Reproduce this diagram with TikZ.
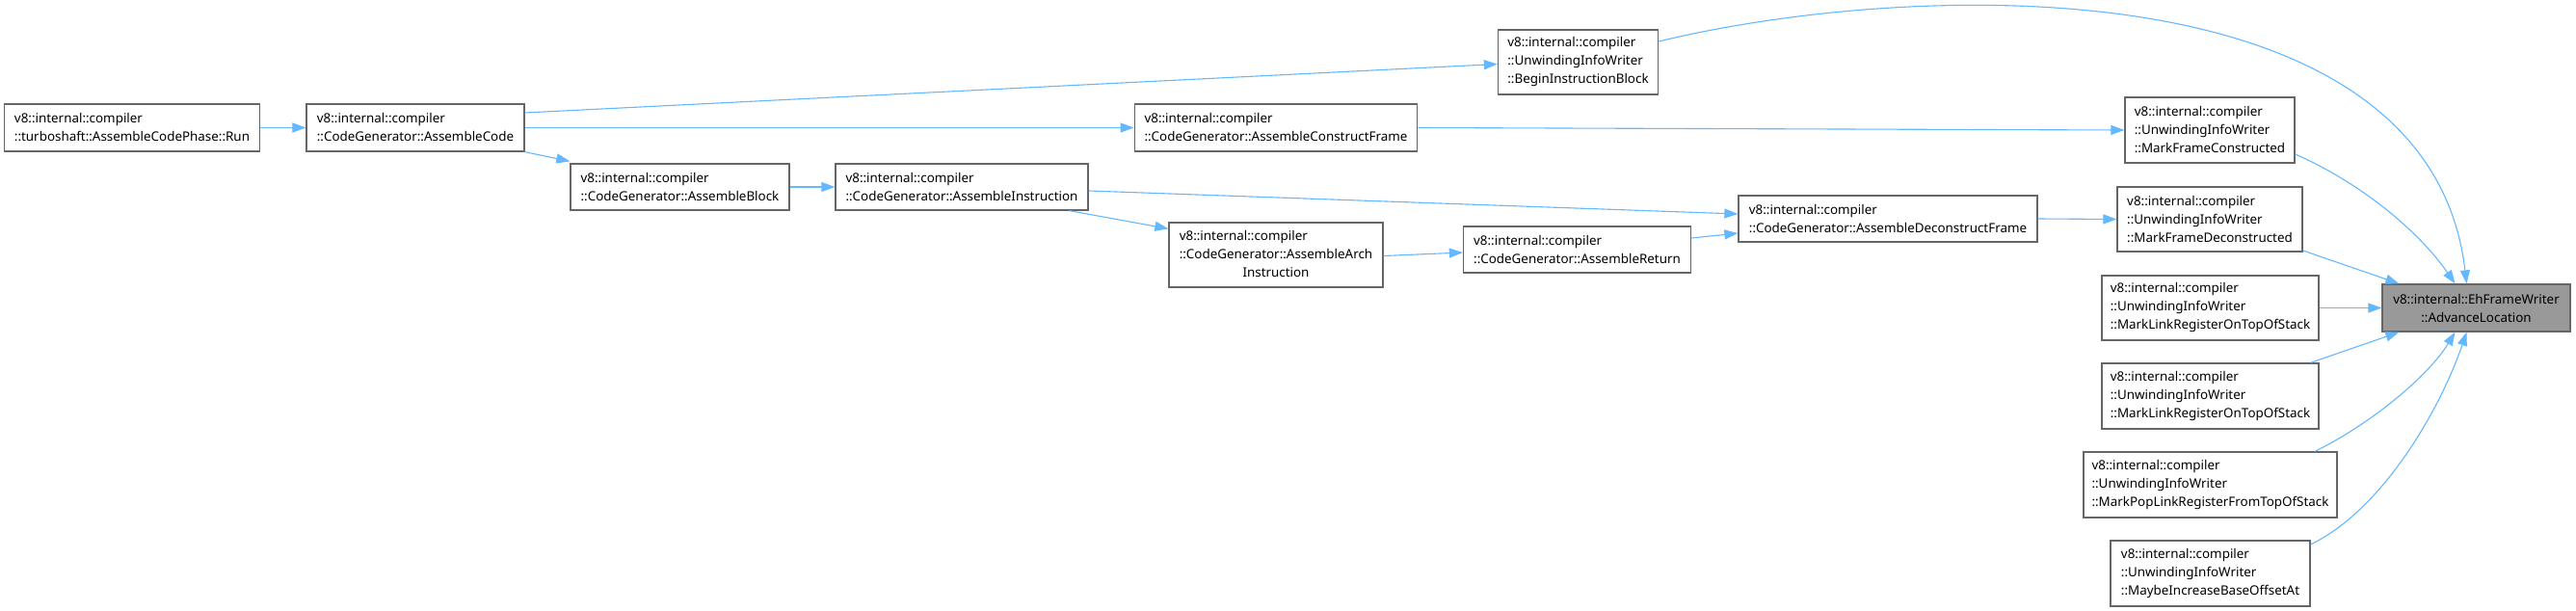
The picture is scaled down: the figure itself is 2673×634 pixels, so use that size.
\documentclass[tikz,border=0pt]{standalone}
\usepackage{fontspec}
\setmainfont{Noto Sans}
\usepackage{xcolor}
\usetikzlibrary{arrows.meta}
\definecolor{edgeblue}{HTML}{63B8FF}
\definecolor{boxgray}{HTML}{666666}
\definecolor{hlgray}{HTML}{999999}

\begin{document}
\begin{tikzpicture}[x=1pt, y=-1pt,
  fn/.style={draw=boxgray, line width=1.3pt, fill=white, inner sep=0pt, align=left,
    font=\fontsize{13.4}{19}\selectfont},
  hl/.style={fn, fill=hlgray, align=center},
  call/.style={draw=edgeblue, line width=1.1pt, -{Triangle[length=14pt,width=10pt]}}]
  \fill[white] (0,0) rectangle (2673,634);
  \useasboundingbox (0,0) rectangle (2673,634);

  \node[fn, minimum width=265, minimum height=49] (run) at (137,132.5)
    {v8::internal::compiler\\::turboshaft::AssembleCodePhase::Run};
  \node[fn, minimum width=226, minimum height=49] (code) at (431,132.5)
    {v8::internal::compiler\\::CodeGenerator::AssembleCode};
  \node[fn, minimum width=166, minimum height=67] (bib) at (1637.5,64.5)
    {v8::internal::compiler\\::UnwindingInfoWriter\\::BeginInstructionBlock};
  \node[fn, minimum width=293.5, minimum height=49] (cframe) at (1324,132.5)
    {v8::internal::compiler\\::CodeGenerator::AssembleConstructFrame};
  \node[fn, minimum width=227, minimum height=48] (block) at (705.5,194)
    {v8::internal::compiler\\::CodeGenerator::AssembleBlock};
  \node[fn, minimum width=262, minimum height=48] (instr) at (998,194)
    {v8::internal::compiler\\::CodeGenerator::AssembleInstruction};
  \node[fn, minimum width=222, minimum height=67] (arch) at (1324,264.5)
    {\begin{tabular}{@{}l@{}}v8::internal::compiler\\::CodeGenerator::AssembleArch\\
      \multicolumn{1}{@{}c@{}}{Instruction}\end{tabular}};
  \node[fn, minimum width=236, minimum height=48] (ret) at (1636.5,259)
    {v8::internal::compiler\\::CodeGenerator::AssembleReturn};
  \node[fn, minimum width=310, minimum height=48] (dframe) at (1959,227)
    {v8::internal::compiler\\::CodeGenerator::AssembleDeconstructFrame};
  \node[fn, minimum width=176, minimum height=68] (mfc) at (2293,135)
    {v8::internal::compiler\\::UnwindingInfoWriter\\::MarkFrameConstructed};
  \node[fn, minimum width=192, minimum height=67] (mfd) at (2293,227.5)
    {v8::internal::compiler\\::UnwindingInfoWriter\\::MarkFrameDeconstructed};
  \node[fn, minimum width=225, minimum height=67] (mlrA) at (2293.5,319.5)
    {v8::internal::compiler\\::UnwindingInfoWriter\\::MarkLinkRegisterOnTopOfStack};
  \node[fn, minimum width=225, minimum height=68] (mlrB) at (2293.5,411)
    {v8::internal::compiler\\::UnwindingInfoWriter\\::MarkLinkRegisterOnTopOfStack};
  \node[fn, minimum width=263, minimum height=68] (mpop) at (2293.5,503)
    {v8::internal::compiler\\::UnwindingInfoWriter\\::MarkPopLinkRegisterFromTopOfStack};
  \node[fn, minimum width=207, minimum height=68] (maybe) at (2293.5,595)
    {v8::internal::compiler\\::UnwindingInfoWriter\\::MaybeIncreaseBaseOffsetAt};
  \node[hl, minimum width=195, minimum height=49] (adv) at (2569.5,319.5)
    {v8::internal::EhFrameWriter\\::AdvanceLocation};

  \draw[call] (run) -- (code);
  \draw[call] ([yshift=15.5]code.east) -- ([yshift=-2]bib.west);
  \draw[call] (code) -- (cframe);
  \draw[call] (code.south east) -- ([yshift=2]block.north west);
  \draw[call] (block) -- (instr);
  \draw[call] ([yshift=-4]instr.east) -- ([yshift=5]dframe.west);
  \draw[call] ([xshift=-20]instr.south east) -- ([yshift=-7]arch.north west);
  \draw[call] ([yshift=-1]arch.east) -- ([yshift=-3]ret.west);
  \draw[call] ([yshift=12]ret.east) -- ([yshift=-15]dframe.west);
  \draw[call] (cframe.east) -- (mfc.west);
  \draw[call] (dframe.east) -- (mfd.west);
  \draw[call] ([yshift=21.5]bib.east) .. controls (1980,-20) and (2520,-40) .. ([xshift=-10]adv.north);
  \draw[call] ([yshift=-25]mfc.east) .. controls (2450,190) and (2510,240) .. ([xshift=-22]adv.north);
  \draw[call] ([yshift=-32.5]mfd.east) -- ([xshift=18]adv.north west);
  \draw[call] (mlrA) -- (adv);
  \draw[call] ([xshift=-9]mlrB.north east) -- ([xshift=18]adv.south west);
  \draw[call] ([xshift=108.5]mpop.north) .. controls (2460,440) and (2520,390) .. ([xshift=-22]adv.south);
  \draw[call] ([yshift=30]maybe.east) .. controls (2470,530) and (2530,430) .. ([xshift=-10]adv.south);
\end{tikzpicture}
\end{document}
